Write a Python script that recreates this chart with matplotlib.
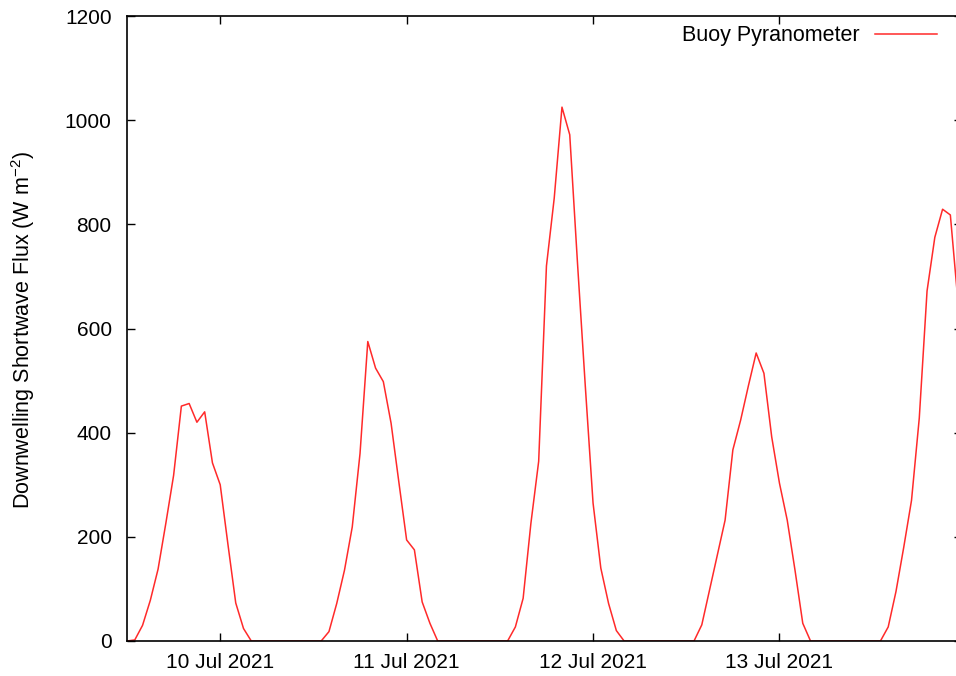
import matplotlib
matplotlib.use('Agg')
import matplotlib.pyplot as plt
import matplotlib.dates as mdates
import pandas as pd

# hourly buoy pyranometer readings, starting 9 Jul 2021 12:00 UTC
start_time = "2021-07-09 12:00"
flux = [
    0, 2, 30, 78, 138, 226, 318, 451, 456, 420, 440, 342, 300, 185, 73, 24, 0,
    0, 0, 0, 0, 0, 0, 0, 0,
    0, 18, 72, 136, 219, 360, 575, 524, 498, 418, 305, 194, 175, 75, 34, 0,
    0, 0, 0, 0, 0, 0, 0, 0,
    0, 27, 82, 226, 345, 720, 850, 1025, 972, 725, 490, 265, 140, 72, 20, 0,
    0, 0, 0, 0, 0, 0, 0, 0,
    0, 31, 98, 165, 232, 367, 424, 490, 553, 514, 392, 303, 232, 136, 34, 0,
    0, 0, 0, 0, 0, 0, 0, 0,
    0, 27, 95, 180, 270, 428, 672, 775, 829, 818, 648, 470,
]
y_ticks = [0, 200, 400, 600, 800, 1000, 1200]
series_label = "Buoy Pyranometer"
y_label = r"Downwelling Shortwave Flux (W m$^{-2}$)"

times = pd.date_range(start_time, periods=len(flux), freq="h")

plt.rcParams['font.family'] = ['Liberation Sans', 'DejaVu Sans']
plt.rcParams['mathtext.fontset'] = 'custom'
plt.rcParams['mathtext.rm'] = 'Liberation Sans'
plt.rcParams['mathtext.it'] = 'Liberation Sans'

fig = plt.figure(figsize=(9.56, 6.76), dpi=100)
ax = fig.add_axes([127 / 956, 35 / 676, 835 / 956, 625 / 676])

ax.plot(times, flux, color="#ff2a2a", linewidth=1.1, label=series_label)

ax.set_xlim(times[0], times[0] + pd.Timedelta(hours=107.5))
ax.set_ylim(0, 1200)
ax.set_yticks(y_ticks)
ax.xaxis.set_major_locator(mdates.DayLocator())
ax.xaxis.set_major_formatter(mdates.DateFormatter('%d %b %Y'))

ax.tick_params(axis='both', direction='in', length=6, width=1.0,
               top=True, right=True, labelsize=15, color='black')
ax.tick_params(axis='y', pad=11)
ax.tick_params(axis='x', pad=9)
for spine in ax.spines.values():
    spine.set_linewidth(1.2)

ax.set_ylabel(y_label, fontsize=15.5)
ax.yaxis.set_label_coords(37 / 956, 1 - 330 / 676, transform=fig.transFigure)

ax.legend(loc='center right', bbox_to_anchor=(937 / 956, 1 - 36 / 676),
          bbox_transform=fig.transFigure, frameon=False, markerfirst=False,
          handlelength=2.9, handletextpad=0.7, borderpad=0, borderaxespad=0,
          fontsize=15.5)

plt.savefig("out.png", dpi=100)
plt.close()
